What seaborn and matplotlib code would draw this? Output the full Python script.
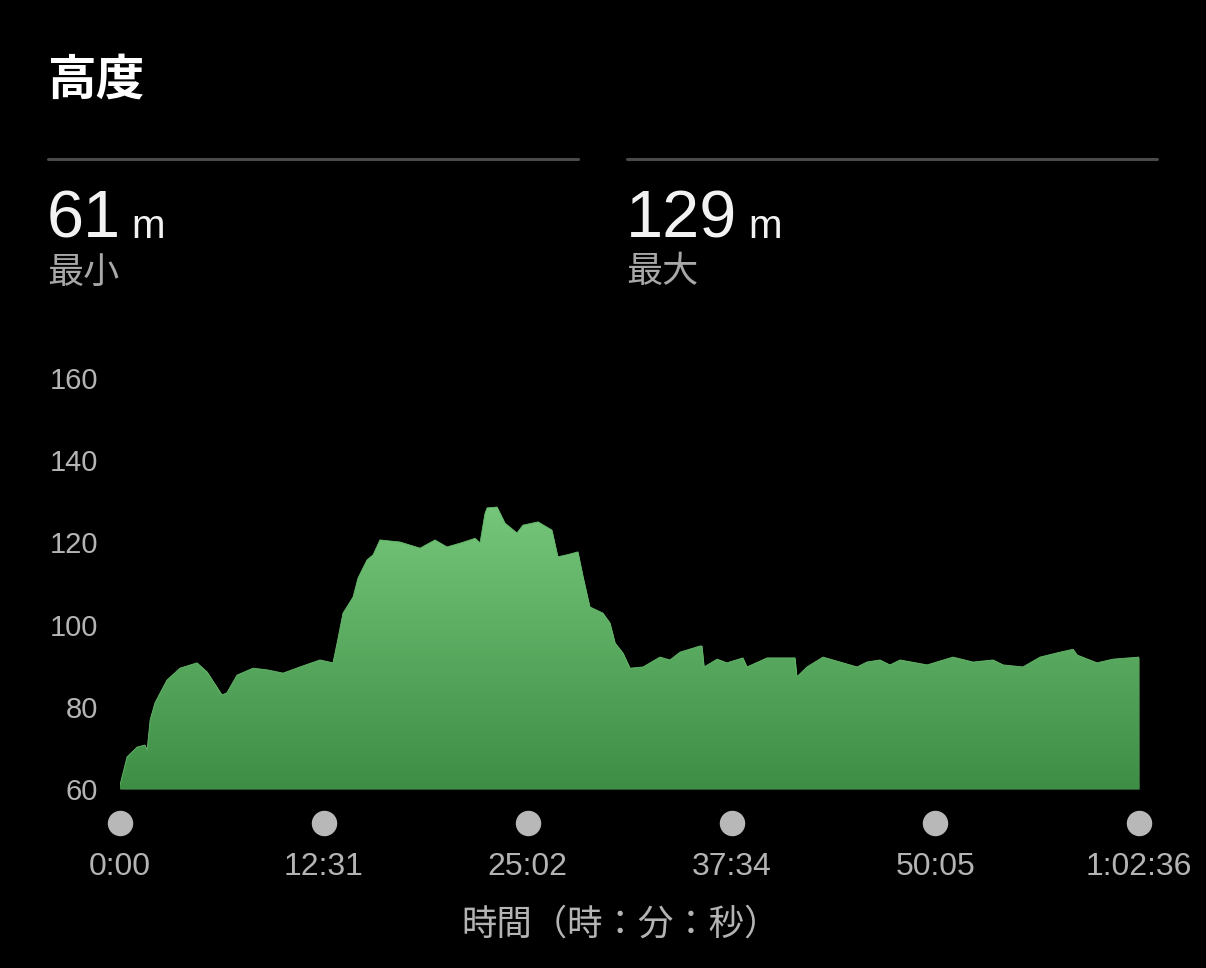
import numpy as np
import pandas as pd
import matplotlib.pyplot as plt
import seaborn as sns
from matplotlib.colors import LinearSegmentedColormap
from matplotlib.lines import Line2D

# 経過時間(秒)と高度(m)
time_sec = [0, 26, 63, 92, 100, 111, 129, 173, 221, 284, 321, 376, 394, 431, 490,
            542, 601, 663, 737, 785, 800, 822, 859, 877, 910, 933, 958, 1032, 1106,
            1161, 1205, 1253, 1309, 1327, 1345, 1353, 1390, 1419, 1463, 1485, 1541,
            1592, 1614, 1648, 1688, 1707, 1732, 1780, 1806, 1825, 1854, 1880, 1928,
            1990, 2027, 2064, 2138, 2145, 2153, 2201, 2237, 2296, 2311, 2385, 2488,
            2495, 2532, 2591, 2654, 2717, 2753, 2801, 2838, 2875, 2975, 3070, 3144,
            3218, 3255, 3328, 3391, 3465, 3513, 3528, 3601, 3660, 3756]
altitude = [61, 67.8, 70.2, 70.7, 69.5, 76.8, 81, 86.5, 89.4, 90.7, 88.5, 82.9, 83.4,
            87.7, 89.4, 89, 88.2, 89.7, 91.4, 90.7, 95.5, 102.8, 106.7, 111.3, 115.7,
            117, 120.6, 120.1, 118.6, 120.6, 118.9, 119.8, 121, 119.9, 127, 128.4,
            128.6, 124.7, 122.3, 124.2, 125, 123, 116.5, 117, 117.7, 111.6, 104.3,
            102.8, 100.4, 95.5, 93.1, 89.4, 89.7, 92.1, 91.4, 93.3, 94.8, 94.8, 89.7,
            91.6, 90.7, 91.9, 89.7, 91.9, 91.9, 87.3, 89.7, 92.1, 90.9, 89.7, 90.9,
            91.4, 90.2, 91.4, 90.2, 92.1, 90.9, 91.4, 90.2, 89.7, 92.1, 93.3, 94,
            92.6, 90.7, 91.6, 92.1]

xticks = [0, 751, 1502, 2254, 3005, 3756]
xtick_labels = ['0:00', '12:31', '25:02', '37:34', '50:05', '1:02:36']
yticks = [60, 80, 100, 120, 140, 160]

min_alt = '61'
max_alt = '129'

df = pd.DataFrame({'time': time_sec, 'alt': altitude})

sns.set_theme(style='dark', rc={'figure.facecolor': 'black', 'axes.facecolor': 'black'})
plt.rcParams['font.family'] = ['Liberation Sans', 'Noto Sans CJK JP', 'DejaVu Sans']

fig = plt.figure(figsize=(12.06, 9.68), dpi=100)
ax = fig.add_axes([0.0995, 0.1849, 0.845, 0.4246])
ax.set_facecolor('black')

# 塗りつぶし + グラデーション
poly = ax.fill_between(df['time'], df['alt'], 60, color='#5aab60', lw=0)
cmap = LinearSegmentedColormap.from_list('g', ['#3e8e46', '#76c77b'])
grad = np.linspace(0, 1, 256).reshape(-1, 1)
im = ax.imshow(grad, extent=[0, 3756, 60, 130], aspect='auto', cmap=cmap,
               origin='lower', zorder=2)
im.set_clip_path(poly.get_paths()[0], transform=ax.transData)
sns.lineplot(data=df, x='time', y='alt', ax=ax, color='#66b86c', lw=0.6, zorder=3)

ax.set_xlim(0, 3756)
ax.set_ylim(60, 160)
for s in ax.spines.values():
    s.set_visible(False)
ax.grid(False)

ax.set_yticks(yticks)
ax.set_yticklabels([str(v) for v in yticks], color='#b4b4b4', fontsize=21)
ax.set_xticks(xticks)
ax.set_xticklabels(xtick_labels, color='#b4b4b4', fontsize=23)
ax.tick_params(axis='both', length=0)
ax.tick_params(axis='y', pad=16)
ax.tick_params(axis='x', pad=45)
ax.set_xlabel('')
ax.set_ylabel('')

# 目盛りの丸
ax.scatter(xticks, [-0.083] * len(xticks), s=300, color='#b8b8b8',
           transform=ax.get_xaxis_transform(), clip_on=False, zorder=4)

# 軸ラベル
fig.text(621 / 1206, 1 - 925 / 968, '時間（時：分：秒）', color='#b4b4b4',
         fontsize=25.5, ha='center', va='center')

# タイトルと統計値
fig.text(47 / 1206, 1 - 80 / 968, '高度', color='white', fontsize=35,
         fontweight='bold', ha='left', va='center', family=['Noto Sans CJK JP'])
for x0 in [48, 627]:
    fig.add_artist(Line2D([x0 / 1206, (x0 + 530) / 1206], [1 - 159 / 968] * 2,
                          color='#4a4a4a', lw=2.2))

base = 1 - 238 / 968
fig.text(47 / 1206, base, min_alt, color='#f2f2f2', fontsize=48, ha='left', va='baseline')
fig.text(131 / 1206, base, 'm', color='#f2f2f2', fontsize=29, ha='left', va='baseline')
fig.text(47 / 1206, 1 - 273 / 968, '最小', color='#a8a8a8', fontsize=26,
         ha='left', va='center')
fig.text(626 / 1206, base, max_alt, color='#f2f2f2', fontsize=48, ha='left', va='baseline')
fig.text(748 / 1206, base, 'm', color='#f2f2f2', fontsize=29, ha='left', va='baseline')
fig.text(626 / 1206, 1 - 273 / 968, '最大', color='#a8a8a8', fontsize=26,
         ha='left', va='center')

fig.savefig('out.png', dpi=100, facecolor='black')
